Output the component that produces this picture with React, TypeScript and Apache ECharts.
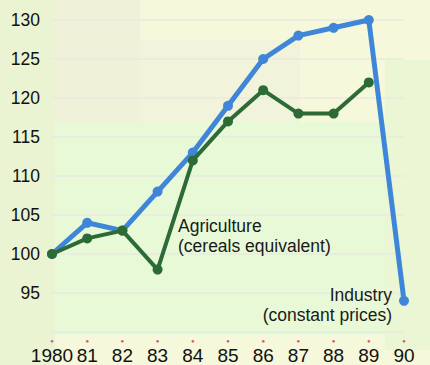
import React, { useEffect, useRef } from "react";
import * as echarts from "echarts";

const years = ["1980", "81", "82", "83", "84", "85", "86", "87", "88", "89", "90"];
const industry = [100, 104, 103, 108, 113, 119, 125, 128, 129, 130, 94];
const agriculture = [100, 102, 103, 98, 112, 117, 121, 118, 118, 122];
const yTicks = { min: 90, max: 130, interval: 5 };

export default function App() {
  const ref = useRef<HTMLDivElement>(null);
  useEffect(() => {
    document.body.style.margin = "0";
    const chart = echarts.init(ref.current!, null, { renderer: "svg" });
    const font = "'Liberation Sans', Arial, Helvetica, sans-serif";
    const txt = (t: string, pos: any, align = "left") => ({
      type: "text", z: 10, ...pos,
      style: { text: t, font: `17.5px ${font}`, fill: "#1a1a1a", align },
    });
    chart.setOption({
      animation: false,
      backgroundColor: "#f5f8da",
      graphic: [
        { type: "rect", z: -10, shape: { x: 0, y: 0, width: 55, height: 365 }, style: { fill: "#eaf4d2" } },
        { type: "rect", z: -10, shape: { x: 55, y: 0, width: 85, height: 122 }, style: { fill: "#eff1d8" } },
        { type: "rect", z: -10, shape: { x: 140, y: 40, width: 160, height: 82 }, style: { fill: "#f1f3da" } },
        { type: "rect", z: -10, shape: { x: 55, y: 122, width: 330, height: 213 }, style: { fill: "#e7f9d6" } },
        { type: "rect", z: -10, shape: { x: 385, y: 60, width: 45, height: 290 }, style: { fill: "#eaf6d4" } },
        txt("Agriculture", { left: 178, top: 217 }),
        txt("(cereals equivalent)", { left: 178, top: 237 }),
        txt("Industry", { right: 38, top: 286 }, "right"),
        txt("(constant prices)", { right: 38, top: 306 }, "right"),
      ],
      grid: { left: 52, right: 26, top: 20, bottom: 32, containLabel: false },
      xAxis: {
        type: "category",
        data: years,
        boundaryGap: false,
        axisLine: { show: false },
        axisTick: { show: false },
        axisLabel: {
          margin: 4,
          interval: 0,
          formatter: (v: string) => `{dot|●}\n{v|${v}}`,
          rich: {
            dot: { fontSize: 6, lineHeight: 10, color: "#d8507a", align: "center" },
            v: { fontSize: 19, lineHeight: 19, color: "#111", fontFamily: font, align: "center" },
          },
        },
      },
      yAxis: {
        type: "value",
        min: yTicks.min,
        max: yTicks.max,
        interval: yTicks.interval,
        axisLine: { show: false },
        axisTick: { show: false },
        splitLine: { show: true, lineStyle: { color: "#e8eadf", width: 1.5 } },
        axisLabel: {
          margin: 12,
          fontSize: 17.5,
          color: "#111",
          fontFamily: font,
          formatter: (v: number) => (v === 90 ? "" : String(v)),
        },
      },
      series: [
        {
          name: "Industry (constant prices)",
          type: "line",
          data: industry,
          symbol: "circle",
          symbolSize: 10,
          lineStyle: { color: "#3f86d8", width: 5 },
          itemStyle: { color: "#3f86d8" },
          z: 3,
        },
        {
          name: "Agriculture (cereals equivalent)",
          type: "line",
          data: agriculture,
          symbol: "circle",
          symbolSize: 10,
          lineStyle: { color: "#2d6b36", width: 4 },
          itemStyle: { color: "#2d6b36" },
          z: 4,
        },
      ],
    });
    return () => chart.dispose();
  }, []);
  return <div ref={ref} style={{ width: 430, height: 365 }} />;
}
